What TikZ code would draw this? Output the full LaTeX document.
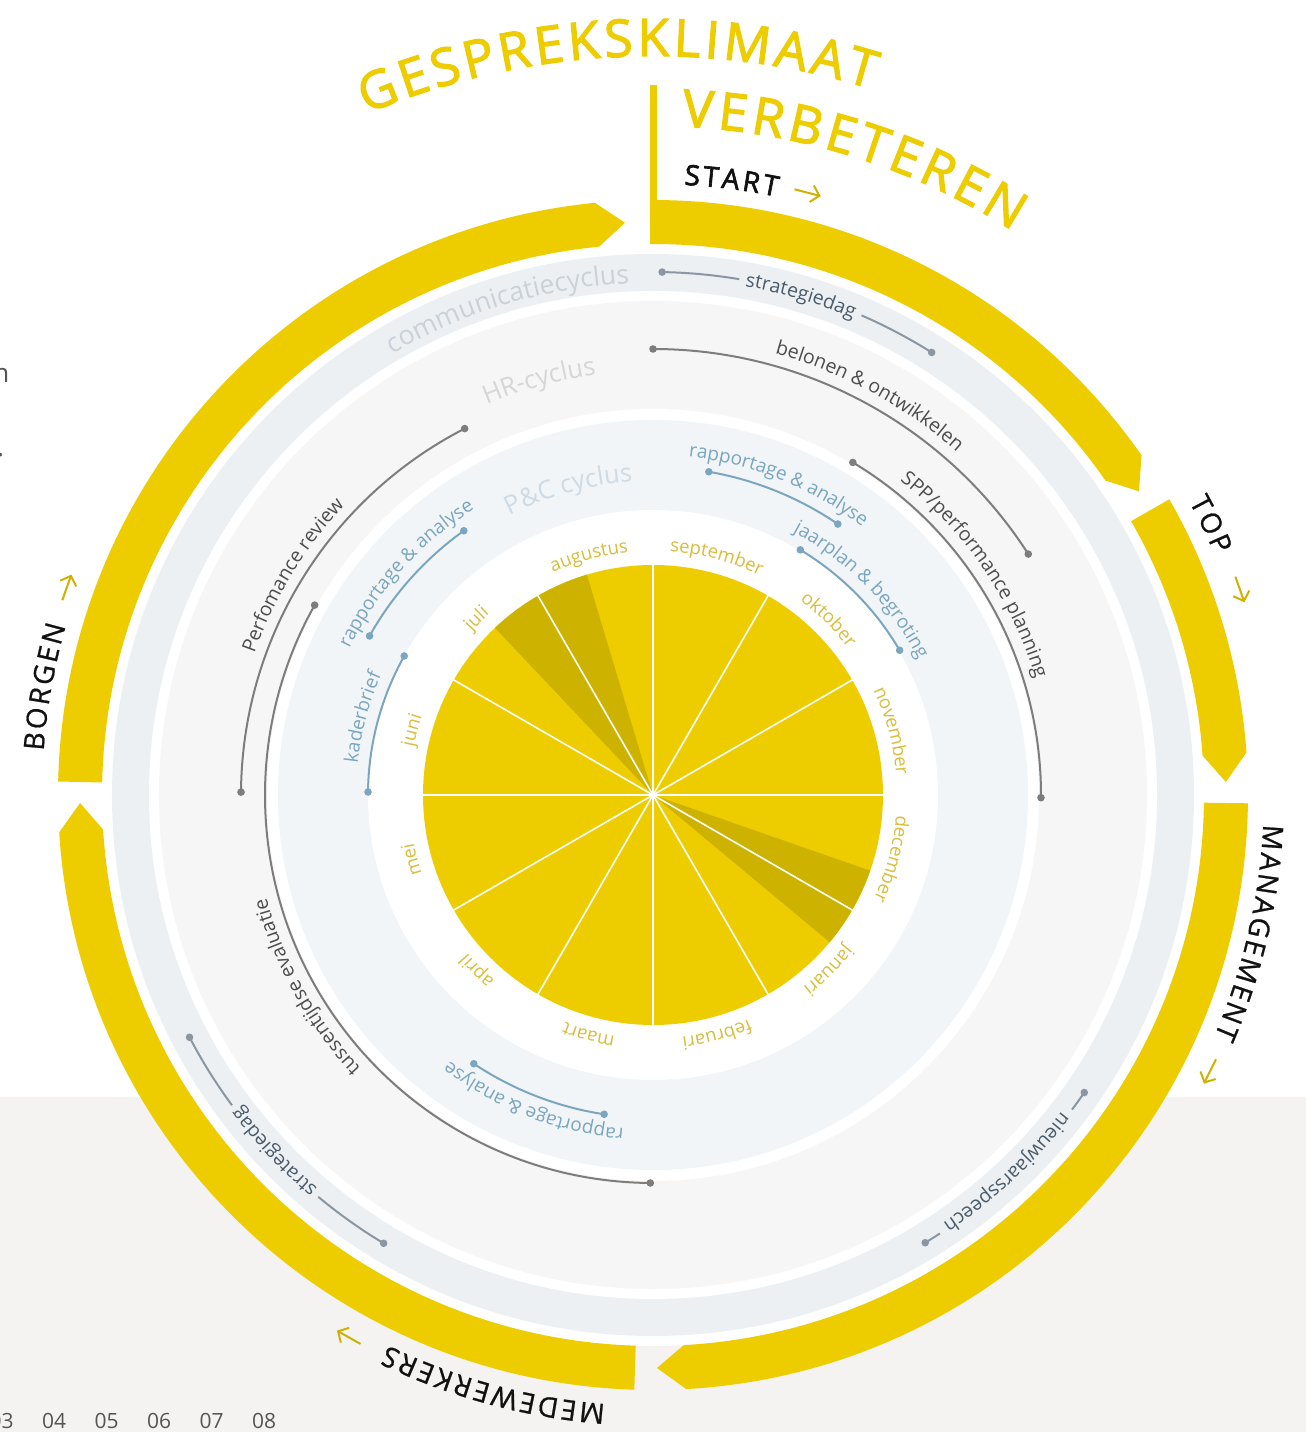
\documentclass[tikz,border=0pt]{standalone}
\usepackage{fontspec}
\setmainfont{Open Sans}
\usetikzlibrary{arrows.meta}
\definecolor{ylw}{HTML}{EDCD00}
\definecolor{ylwdark}{HTML}{CDB200}
\definecolor{monthc}{HTML}{D8BE3C}
\definecolor{commring}{HTML}{EDF0F3}
\definecolor{hrring}{HTML}{F6F6F6}
\definecolor{pcring}{HTML}{F1F5F8}
\definecolor{bggray}{HTML}{F4F3F1}
\definecolor{commline}{HTML}{8A97A3}
\definecolor{commtext}{HTML}{4A5B6B}
\definecolor{hrline}{HTML}{7D7D7D}
\definecolor{hrtext}{HTML}{4D4D4D}
\definecolor{pcline}{HTML}{7AA6BF}
\definecolor{commlabel}{HTML}{CAD2D9}
\definecolor{hrlabel}{HTML}{D6D6D6}
\definecolor{pclabel}{HTML}{CFDBE4}
\definecolor{arrowc}{HTML}{CFB100}
\definecolor{capsc}{HTML}{111111}
\definecolor{pagetext}{HTML}{555555}
% ---- curved text, character by character ----
\newdimen\ctw \newdimen\ctpos
\def\ctend{ctend-sentinel}
\def\ctus{_}
\def\ctfname{Open Sans}
\def\ctloop#1{\ifx#1\ctend\else\ctdo{#1}\expandafter\ctloop\fi}
\def\ctbox#1{\def\ctarg{#1}\ifx\ctarg\ctus\def\ctchar{\ }\else\def\ctchar{#1}\fi
  \setbox0\hbox{\ctf\ctchar}}
\def\ctmeasure#1{\ctbox{#1}\global\advance\ctw by\wd0\relax\global\advance\ctw by\cttrk\relax}
\def\ctplace#1{\ctbox{#1}\edef\ctcw{\the\wd0}%
  \pgfmathsetmacro\ctang{\ctc+(\ctpos+0.5*\ctcw)/\ctr*57.29578}%
  \pgftext[base,at={\pgfpointpolar{90-\ctang}{\ctr pt}},rotate=-\ctang]{\color{\ctcol}\ctf\ctchar}%
  \global\advance\ctpos by\ctcw\relax\global\advance\ctpos by\cttrk\relax}
% #1 baseline radius, #2 centre angle (clockwise from top), #3 font size, #4 colour, #5 tracking, #6 text (_ = space)
\newcommand\ctext[6]{%
  \font\ctf="\ctfname" at #3pt\relax
  \def\ctr{#1}\def\ctc{#2}\def\ctcol{#4}\def\cttrk{#5pt}%
  \global\ctw=0pt\relax
  \let\ctdo\ctmeasure\ctloop#6\ctend
  \global\advance\ctw by-\cttrk\relax
  \global\ctpos=-0.5\ctw\relax
  \let\ctdo\ctplace\ctloop#6\ctend}
% arcs
\newcommand\plainarc[4]{%
  \draw[#4,line width=2pt] ({90-(#2)}:#1pt) arc[start angle={90-(#2)},end angle={90-(#3)},radius=#1pt];}
\newcommand\dotat[3]{\fill[#3] ({90-(#2)}:#1pt) circle (3.8pt);}
\newcommand\dotarc[4]{\plainarc{#1}{#2}{#3}{#4}\dotat{#1}{#2}{#4}\dotat{#1}{#3}{#4}}
% yellow outer segment: start angle, tip angle
\newcommand\yseg[2]{%
  \fill[ylw] ({90-(#1)}:595pt) arc[start angle={90-(#1)},end angle={90-(#2)+2.8},radius=595pt]
    -- ({90-(#2)}:573pt) -- ({90-(#2)+2.8}:551pt)
    arc[start angle={90-(#2)+2.8},end angle={90-(#1)},radius=551pt] -- cycle;}
\newcommand\tarrow[1]{%
  \draw[arrowc,line width=2pt,-{Straight Barb[length=8pt,width=17pt]}]
    ({90-(#1)+1.25}:622pt) -- ({90-(#1)-1.25}:622pt);}
\begin{document}
\begin{tikzpicture}[x=1pt,y=1pt]
\useasboundingbox (-653,-637) rectangle (653,795);
% page
\fill[white] (-653,-637) rectangle (653,795);
\fill[bggray] (-653,-637) rectangle (653,-302);
% rings
\fill[white] (0,0) circle (551pt);
\fill[commring] (0,0) circle (541pt);
\fill[white] (0,0) circle (504pt);
\fill[hrring] (0,0) circle (494pt);
\fill[white] (0,0) circle (386pt);
\fill[pcring] (0,0) circle (375pt);
\fill[white] (0,0) circle (285pt);
% pie
\fill[ylw] (0,0) circle (230pt);
\fill[ylwdark] (0,0) -- ({90-316.6}:230pt) arc[start angle={90-316.6},end angle={90-343.3},radius=230pt] -- cycle;
\fill[ylwdark] (0,0) -- ({90-109.2}:230pt) arc[start angle={90-109.2},end angle={90-129.8},radius=230pt] -- cycle;
\foreach \i in {0,...,11}{\draw[white,line width=1.6pt] (0,0) -- ({90-30*\i}:230.5pt);}
\fill[white] (0,0) circle (3pt);
% months
\ctext{244}{15}{18.5}{monthc}{0}{september}
\ctext{244}{45}{18.5}{monthc}{0}{oktober}
\ctext{244}{75}{18.5}{monthc}{0}{november}
\ctext{244}{105}{18.5}{monthc}{0}{december}
\ctext{244}{135}{18.5}{monthc}{0}{januari}
\ctext{244}{165}{18.5}{monthc}{0}{februari}
\ctext{244}{195}{18.5}{monthc}{0}{maart}
\ctext{244}{225}{18.5}{monthc}{0}{april}
\ctext{244}{255}{18.5}{monthc}{0}{mei}
\ctext{244}{285}{18.5}{monthc}{0}{juni}
\ctext{244}{315}{18.5}{monthc}{0}{juli}
\ctext{244}{345}{18.5}{monthc}{0}{augustus}
% ring names
\ctext{512}{343.4}{26.5}{commlabel}{0}{communicatiecyclus}
\ctext{424}{344.6}{25.5}{hrlabel}{0}{HR-cyclus}
\ctext{314}{344.6}{25.5}{pclabel}{0}{P\&C_cyclus}
% communicatiecyclus items
\plainarc{523}{1}{9.5}{commline}
\plainarc{523}{23.5}{32.2}{commline}
\dotat{523}{1}{commline}\dotat{523}{32.2}{commline}
\ctext{517}{16.5}{19.5}{commtext}{0}{strategiedag}
\plainarc{523}{211}{219.8}{commline}
\plainarc{523}{233.6}{242.4}{commline}
\dotat{523}{211}{commline}\dotat{523}{242.4}{commline}
\ctext{517}{226.7}{19.5}{commtext}{0}{strategiedag}
\plainarc{524}{124.6}{126.9}{commline}
\plainarc{524}{146.8}{148.7}{commline}
\dotat{524}{124.6}{commline}\dotat{524}{148.7}{commline}
\ctext{517}{136.85}{19.5}{commtext}{0}{nieuwjaarsspeech}
% HR items
\dotarc{446}{0}{57.3}{hrline}
\ctext{458}{28.5}{19.5}{hrtext}{0}{belonen_\&_ontwikkelen}
\dotarc{388}{31}{90.4}{hrline}
\ctext{400}{55.6}{19.5}{hrtext}{0}{SPP/performance_planning}
\dotarc{412}{270.4}{332.8}{hrline}
\ctext{423}{301.4}{19.5}{hrtext}{0}{Perfomance_review}
\dotarc{388}{180.4}{299.3}{hrline}
\ctext{400}{241}{19.5}{hrtext}{0}{tussentijdse_evaluatie}
% P&C items
\dotarc{328}{9.8}{34.3}{pcline}
\ctext{340}{22}{19}{pcline}{0}{rapportage_\&_analyse}
\dotarc{286}{31}{59.6}{pcline}
\ctext{298}{45.5}{19}{pcline}{0}{jaarplan_\&_begroting}
\dotarc{325}{299.3}{324.4}{pcline}
\ctext{337}{311.9}{19}{pcline}{0}{rapportage_\&_analyse}
\dotarc{285}{270.6}{299.2}{pcline}
\ctext{297}{285}{19}{pcline}{0}{kaderbrief}
\dotarc{323}{188.7}{213.7}{pcline}
\ctext{335}{201.2}{19}{pcline}{0}{rapportage_\&_analyse}
% outer yellow segments
\fill[ylw] (-3,553) rectangle (4,710);
\yseg{-0.3}{58}
\yseg{60.2}{88.7}
\yseg{90.8}{179.6}
\yseg{181.8}{269.2}
\yseg{271.3}{357.2}
% caps labels
\def\ctfname{Open Sans:embolden=2.2}
\ctext{611}{7.3}{28}{capsc}{3}{START}
\def\ctfname{Open Sans:embolden=0.8}
\ctext{611}{64.1}{28}{capsc}{2.6}{TOP}
\ctext{611}{103}{28}{capsc}{2.6}{MANAGEMENT}
\ctext{611}{195.1}{28}{capsc}{2.6}{MEDEWERKERS}
\ctext{611}{280.1}{28}{capsc}{2.6}{BORGEN}
\tarrow{14.4}
\tarrow{70.7}
\tarrow{116.4}
\tarrow{209.3}
\tarrow{289.5}
% title
\def\ctfname{Open Sans:embolden=2.2}
\ctext{739}{357.2}{52}{ylw}{3.8}{GESPREKSKLIMAAT}
\ctext{669}{17.5}{52}{ylw}{4.3}{VERBETEREN}
\def\ctfname{Open Sans}
% cut-off page text
\node[anchor=base east,inner sep=0pt,text=pagetext,font=\fontsize{26}{26}\selectfont] (pn) at (-643.5,412) {n};
\node[anchor=base west,inner sep=0pt,text=pagetext,font=\fontsize{26}{26}\selectfont] (pdot) at (-656,338) {.};
\foreach \k/\t in {0/03,1/04,2/05,3/06,4/07,5/08}{
  \node[anchor=base west,inner sep=0pt,text=pagetext,font=\fontsize{21}{21}\selectfont] (num\k) at ({-663.5+52.5*\k},-633) {\t};}
\end{tikzpicture}
\end{document}
